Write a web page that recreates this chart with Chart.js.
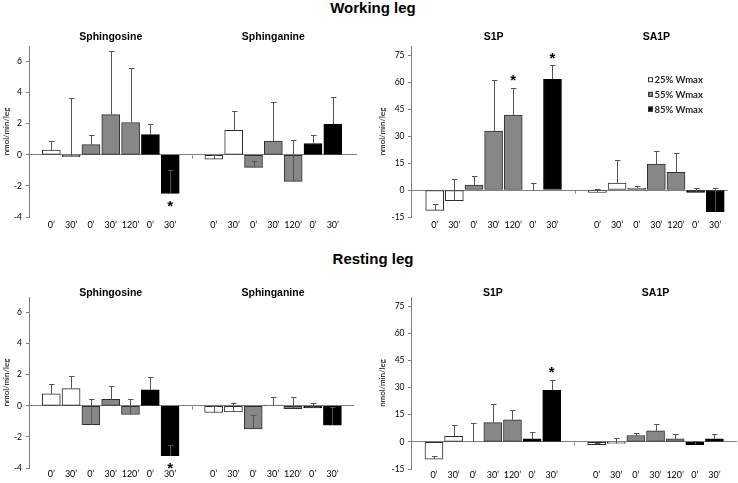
<!DOCTYPE html>
<html><head><meta charset="utf-8">
<script src="https://cdn.jsdelivr.net/npm/chart.js@4.4.0/dist/chart.umd.min.js"></script>
<style>
html,body{margin:0;padding:0;background:#fff;}
#page{position:relative;width:738px;height:483px;overflow:hidden;font-family:'Liberation Sans',Arial,sans-serif;}
canvas{position:absolute;}
.main{position:absolute;left:0;width:746px;text-align:center;font-weight:bold;font-size:15px;line-height:18px;color:#000;}
</style></head><body>
<div id="page">
<div class="main" style="top:-1px">Working leg</div>
<div class="main" style="top:250px">Resting leg</div>
<canvas id="tl" width="369" height="220" style="left:0;top:20px"></canvas>
<canvas id="tr" width="369" height="220" style="left:369px;top:20px"></canvas>
<canvas id="bl" width="369" height="213" style="left:0;top:270px"></canvas>
<canvas id="br" width="369" height="213" style="left:369px;top:270px"></canvas>
</div>
<script>
// ---------------- data ----------------
const timeLabels = ["0’", "30’", "0’", "30’", "120’", "0’", "30’"];
const barSeries = [0, 0, 1, 1, 1, 2, 2];           // which intensity each bar belongs to
const seriesNames = ["25% Wmax", "55% Wmax", "85% Wmax"];
const yTitle = "nmol/min/leg";

// Working leg
const sphingosineWorking    = [0.30, -0.12, 0.66, 2.59, 2.08, 1.30, -2.48];
const sphingosineWorkingErr = [0.58, 3.77, 0.64, 4.08, 3.50, 0.69, 1.50];
const sphinganineWorking    = [-0.28, 1.58, -0.81, 0.88, -1.71, 0.73, 1.97];
const sphinganineWorkingErr = [0.30, 1.22, 0.43, 2.54, 2.65, 0.57, 1.77];
const s1pWorking            = [-11.3, -5.9, 2.8, 32.7, 41.6, 0.0, 61.5];
const s1pWorkingErr         = [3.4, 11.9, 4.8, 28.6, 15.1, 3.7, 7.8];
const sa1pWorking           = [-1.3, 3.9, 1.1, 14.4, 9.8, -1.3, -12.0];
const sa1pWorkingErr        = [1.7, 12.5, 1.1, 7.4, 10.7, 2.2, 12.9];

// Resting leg
const sphingosineResting    = [0.77, 1.11, -1.22, 0.41, -0.56, 1.03, -3.21];
const sphingosineRestingErr = [0.66, 0.80, 1.67, 0.85, 0.97, 0.83, 0.68];
const sphinganineResting    = [-0.43, -0.39, -1.48, 0.04, -0.19, -0.13, -1.24];
const sphinganineRestingErr = [0.39, 0.60, 0.90, 0.54, 0.75, 0.32, 1.18];
const s1pResting            = [-9.6, 3.0, 0.0, 10.6, 12.2, 1.7, 28.4];
const s1pRestingErr         = [2.0, 6.5, 10.5, 10.2, 5.6, 3.6, 5.9];
const sa1pResting           = [-1.5, -0.9, 3.5, 6.1, 1.7, -1.5, 1.7];
const sa1pRestingErr        = [0.7, 3.1, 1.5, 3.9, 2.9, 2.2, 2.8];

// significant bars (index into timeLabels)
const sigSphingosineWorking = [6];
const sigS1pWorking = [4, 6];
const sigSphingosineResting = [6];
const sigS1pResting = [6];

const lipidTicks = [-4, 7, 2];      // min, max, step
const phosphoTicks = [-15, 80, 15];

// ---------------- styles ----------------
const fills = ['#ffffff', '#878787', '#000000'];
const borders = ['#2a2a2a', '#2f2f2f', '#000000'];
const axisGray = '#808080';
const tickFont = "Lato, 'Liberation Sans', sans-serif";
const titleFont = "'Liberation Sans', Arial, sans-serif";

const decor = {
  id: 'decor',
  afterDatasetsDraw(chart, args, opts) {
    const {ctx, chartArea} = chart;
    const x = chart.scales.x, y = chart.scales.y;
    ctx.save();
    // error bars + asterisks
    chart.data.datasets.forEach((ds, di) => {
      const meta = chart.getDatasetMeta(di);
      meta.data.forEach((bar, i) => {
        const d = ds.data[i];
        const yv = y.getPixelForValue(d.y);
        const ye = y.getPixelForValue(d.y + d.err);
        const cx = Math.round(bar.x) + 0.5;
        const ce = Math.round(ye) + 0.5;
        ctx.strokeStyle = '#555555';
        ctx.lineWidth = 1;
        ctx.beginPath();
        ctx.moveTo(cx, yv);
        ctx.lineTo(cx, ce);
        ctx.moveTo(cx - 2.5, ce);
        ctx.lineTo(cx + 3, ce);
        ctx.stroke();
        if (d.sig) {
          ctx.fillStyle = '#000';
          ctx.font = "bold 15px " + titleFont;
          ctx.textAlign = 'center';
          ctx.textBaseline = 'alphabetic';
          const cy = d.y >= 0 ? ye - 11 : yv + 9;
          ctx.fillText('*', bar.x, cy + 8.5);
        }
      });
    });
    // zero-line tick between groups
    const y0 = Math.round(y.getPixelForValue(0)) + 0.5;
    const xm = Math.round(x.getPixelForValue((6 + opts.gap) / 2)) + 0.5;
    ctx.strokeStyle = axisGray;
    ctx.beginPath();
    ctx.moveTo(xm, y0);
    ctx.lineTo(xm, y0 + 3);
    ctx.stroke();
    // group titles
    ctx.fillStyle = '#000';
    ctx.font = "bold 10.5px " + titleFont;
    ctx.textAlign = 'center';
    ctx.textBaseline = 'middle';
    opts.titles.forEach((t, gi) => {
      ctx.fillText(t, x.getPixelForValue(gi * opts.gap + 3), chartArea.top + opts.titleDy);
    });
    // legend
    if (opts.legend) {
      ctx.font = "bold 9.5px " + tickFont;
      ctx.textAlign = 'left';
      chart.data.datasets.forEach((ds, di) => {
        const ly = chartArea.top + 33.7 + di * 14.7;
        const lx = chartArea.right - 80;
        ctx.fillStyle = ds.backgroundColor;
        ctx.fillRect(lx, ly - 2.5, 5, 5);
        ctx.strokeStyle = '#333';
        ctx.strokeRect(lx + 0.5, ly - 2.5 + 0.5, 4, 4);
        ctx.fillStyle = '#262626';
        ctx.fillText(ds.label, lx + 6.5, ly + 0.5);
      });
    }
    ctx.restore();
  }
};

function buildPanel(canvasId, groups, yTicks, cfg) {
  const datasets = seriesNames.map((name, s) => ({
    label: name,
    data: [],
    backgroundColor: fills[s],
    borderColor: borders[s],
    borderWidth: 1,
    borderSkipped: false,
    barThickness: 18,
    grouped: false
  }));
  const tickPositions = [];
  groups.forEach((g, gi) => {
    timeLabels.forEach((lab, i) => {
      const pos = gi * cfg.gap + i;
      tickPositions.push(pos);
      datasets[barSeries[i]].data.push({x: pos, y: g.values[i], err: g.errors[i], sig: g.sig.includes(i)});
    });
  });
  new Chart(document.getElementById(canvasId), {
    type: 'bar',
    data: {datasets},
    options: {
      responsive: false,
      animation: false,
      layout: {padding: cfg.padding},
      plugins: {
        legend: {display: false},
        tooltip: {enabled: false},
        title: {display: false},
        decor: {gap: cfg.gap, titles: groups.map(g => g.title), titleDy: cfg.titleDy, legend: !!cfg.legend}
      },
      scales: {
        x: {
          type: 'linear', min: cfg.xMin, max: cfg.xMax, offset: false,
          grid: {display: false, drawTicks: false},
          border: {display: false},
          afterBuildTicks: s => { s.ticks = tickPositions.map(v => ({value: v})); },
          afterFit: s => { s.height = cfg.xAxisH; },
          ticks: {
            autoSkip: false, maxRotation: 0, minRotation: 0, padding: cfg.xPad,
            color: '#000', font: {family: tickFont, size: 9},
            callback: (v, i) => timeLabels[i % timeLabels.length]
          }
        },
        y: {
          min: yTicks[0], max: yTicks[1],
          ticks: {stepSize: yTicks[2], includeBounds: false, padding: cfg.yPad, color: '#000',
                  font: {family: tickFont, size: 8.5}},
          grid: {
            color: c => (c.tick && c.tick.value === 0) ? axisGray : 'rgba(0,0,0,0)',
            tickColor: axisGray, tickLength: 3, drawTicks: true, lineWidth: 1
          },
          border: {display: true, color: axisGray, width: 1},
          title: {display: true, text: yTitle, color: '#000',
                  font: {family: tickFont, size: 8}, padding: {top: cfg.yTitlePad, bottom: 0}},
          afterFit: s => { s.width = cfg.yAxisW; }
        }
      }
    },
    plugins: [decor]
  });
}

buildPanel('tl', [
  {title: 'Sphingosine', values: sphingosineWorking, errors: sphingosineWorkingErr, sig: sigSphingosineWorking},
  {title: 'Sphinganine', values: sphinganineWorking, errors: sphinganineWorkingErr, sig: []}
], lipidTicks, {gap: 8.2, xMin: -1.125, xMax: 15.42, padding: {left: 0, right: 12, top: 26, bottom: 0},
  yAxisW: 29, xAxisH: 23, xPad: 3, yPad: 4, yTitlePad: 1.2, titleDy: -8.5});

buildPanel('tr', [
  {title: 'S1P', values: s1pWorking, errors: s1pWorkingErr, sig: sigS1pWorking},
  {title: 'SA1P', values: sa1pWorking, errors: sa1pWorkingErr, sig: []}
], phosphoTicks, {gap: 8.29, xMin: -1.207, xMax: 14.94, padding: {left: 0, right: 10, top: 26, bottom: 0},
  yAxisW: 42, xAxisH: 23, xPad: 3, yPad: 3.5, yTitlePad: 8.5, titleDy: -8.7, legend: true});

buildPanel('bl', [
  {title: 'Sphingosine', values: sphingosineResting, errors: sphingosineRestingErr, sig: sigSphingosineResting},
  {title: 'Sphinganine', values: sphinganineResting, errors: sphinganineRestingErr, sig: []}
], lipidTicks, {gap: 8.2, xMin: -1.125, xMax: 15.29, padding: {left: 0, right: 15, top: 27, bottom: 0},
  yAxisW: 29, xAxisH: 15, xPad: 1, yPad: 4, yTitlePad: 1.2, titleDy: -4});

buildPanel('br', [
  {title: 'S1P', values: s1pResting, errors: s1pRestingErr, sig: sigS1pResting},
  {title: 'SA1P', values: sa1pResting, errors: sa1pRestingErr, sig: []}
], phosphoTicks, {gap: 8.29, xMin: -1.17, xMax: 15.44, padding: {left: 0, right: 1, top: 27, bottom: 0},
  yAxisW: 42, xAxisH: 14, xPad: 1, yPad: 3.5, yTitlePad: 8.5, titleDy: -4});
</script>
</body></html>
